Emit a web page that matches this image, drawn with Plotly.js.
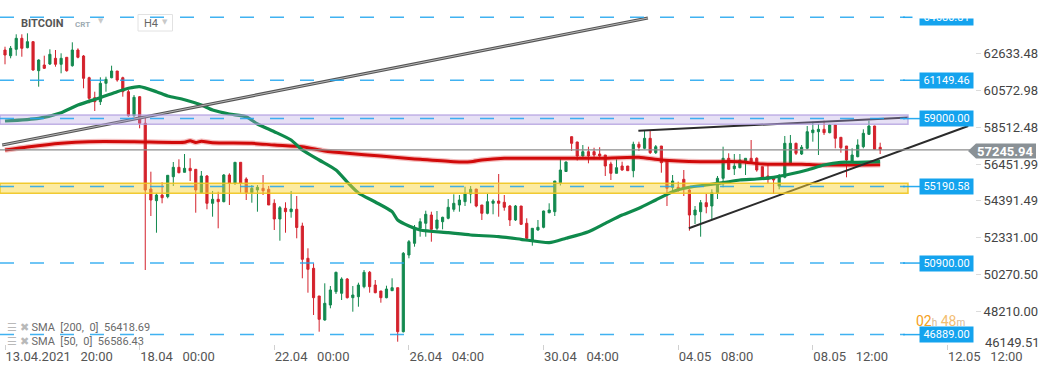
<!DOCTYPE html>
<html><head><meta charset="utf-8">
<script src="https://cdn.plot.ly/plotly-3.0.1.min.js"></script>
<style>html,body{margin:0;padding:0;background:#fff;overflow:hidden}#chart{width:1041px;height:374px}</style>
</head><body><div id="chart"></div>
<script>
// ---- data (BITCOIN, H4) ----
const open  = [62846,62526,62885,63502,62975,63312,61686,62005,62062,62381,62045,62437,61966,62846,62510,61293,60172,59948,60979,61293,61669,61293,60508,59163,60228,58736,55053,54397,54716,54621,55742,56269,55989,56213,56157,54845,55782,54251,54475,54341,55838,55372,56550,55613,54845,54997,55092,55036,54251,53371,53971,53780,53914,52978,51167,50606,49054,47708,48549,49294,49205,50006,48958,49014,49575,50382,49670,49334,48958,49351,49519,47052,51352,52008,52849,53130,53595,52849,53219,53410,53914,54156,54341,54772,55053,54156,53690,54251,54380,54307,54099,53315,54099,53130,52193,52754,52905,53724,53780,55406,56034,57985,57688,56903,57144,57144,57015,56959,56455,55933,56342,56342,56079,57559,57335,57895,57088,57464,56623,55148,55148,55597,54997,53595,53780,54285,54099,54811,55653,56774,56191,56247,56584,56774,56774,56303,55782,55742,55221,55709,56494,57615,57015,57335,58210,58266,58400,58210,58641,57951,57464,56584,56864,57425,58120,58585,57391];
const high  = [63031,63071,63727,63727,63783,63351,62325,62527,62886,62846,62661,62437,63278,62941,62566,61349,60508,61316,61349,61966,61669,61349,60604,60323,60267,59107,56023,54811,55428,55821,56567,56718,57015,56774,56157,56062,55838,54941,54902,55894,55933,56550,56550,55709,55277,55277,55838,55221,54475,54099,54307,54941,54660,53163,51728,50887,49054,49765,49614,50416,50102,50062,49614,49799,50511,50455,49950,49334,49631,50046,49519,51520,52193,53034,53410,53836,53780,53819,53500,54492,54756,54716,55182,55221,55053,54156,54772,54475,55894,54716,54156,54156,54099,53410,52849,53315,53836,54251,55501,56735,56595,58000,57700,57520,57425,57368,57393,56959,56584,56718,56584,56342,57705,57705,58361,58322,57520,57464,56623,55838,55462,56118,55036,54099,54436,54772,55036,55782,57425,57055,57015,57015,56774,57800,56830,56303,56398,55742,55894,58025,58081,57649,57520,58585,58826,58697,58882,58697,58641,57951,57464,57335,57839,58400,58882,58600,57649];
const low   = [62045,62381,62526,62470,62941,61686,60789,61781,62005,61910,61540,61630,61910,62381,60699,59858,59426,59762,60508,61260,61069,60228,59107,59107,58456,50511,53539,52602,54251,54531,55221,55933,55989,55501,53724,54811,53915,53500,52849,54307,54156,55277,54845,54436,54285,53780,54716,54156,52754,52154,52602,53444,52288,50046,49239,47988,47052,47668,48363,49165,48829,48913,48173,48453,49485,49239,49205,48678,48924,49351,46491,47007,51167,51818,52378,52378,52098,52754,52793,53354,53780,53780,54099,54251,54027,53315,53634,53634,53500,53836,52978,53259,53034,52232,51874,52715,52849,53690,53539,55249,56006,57183,56651,56864,56494,56718,56718,55782,55557,55933,56079,56079,55709,57183,57279,57015,57015,55967,54099,54902,54902,54660,52715,53090,52378,53690,53354,54492,55148,56118,55838,56213,55838,56527,56023,55557,55372,54772,55036,55653,56455,56959,56959,57279,57705,56959,58081,58176,57335,57088,55709,56527,56830,57335,58081,57239,57015];
const close = [62566,62941,63502,62941,63312,61725,62286,61820,62605,62045,62381,61686,62846,62437,61260,60138,59948,60979,61204,61669,61164,60508,59163,60194,58736,54997,54436,54716,54565,55821,56269,55967,56213,56079,54997,55782,54251,54475,54341,55838,55372,56550,55372,54845,55092,55148,54958,54156,53371,54004,53780,53931,52894,51111,50550,48958,47747,48644,49390,50382,50006,48958,49109,49670,50382,49575,49239,48958,49446,49519,47052,51447,52098,52905,53219,53634,52793,53315,53466,54027,54251,54436,54772,55036,54099,53690,54341,54380,54251,54027,53315,54099,53073,52288,52849,52905,53819,53875,55501,56118,56567,57615,56903,57144,56903,56959,56903,56342,55933,56247,56118,56079,57559,57391,57895,57088,57425,56527,55092,55501,54997,55092,53595,53875,54285,54060,54845,55653,56774,56157,56342,56679,56774,56584,56118,55709,55597,55557,55709,57615,57615,57055,57391,58266,58361,58400,58210,58641,57895,57368,56679,56959,57520,58176,58585,57279,57245.94];

// SMA readings (candle index -> value)
const sma50Idx = [0,6,10,13,17,20,22,24,27,29,32,35,37,40,43,45,48,51,53,56,59,61,63,66,69,70,72,74,79,83,88,92,97,100,104,107,110,113,116,119,122,125,128,131,134,137,140,143,146,149,152,156];
const sma50Val = [58866,59017,59331,59763,60172,60508,60699,60789,60508,60267,60060,59763,59482,59258,59107,58697,58266,57800,57239,56679,56118,55445,54828,54324,53780,53315,52978,52754,52602,52474,52378,52233,52042,52289,52658,53129,53595,53970,54436,54901,55148,55277,55406,55557,55613,55709,55894,56118,56398,56550,56550,56586.43];
const sma200Idx = [0,4,10,15,23,32,33,34,35,37,44,48,53,57,61,67,72,74,80,83,85,89,102,106,113,117,124,131,135,142,145,156];
const sma200Val = [57239,57408,57615,57705,57705,57671,57761,57660,57727,57649,57615,57520,57425,57183,57054,56903,56763,56718,56583,56583,56679,56774,56774,56774,56830,56679,56583,56583,56455,56438,56398,56418.69];

// drawn trend lines [x0,x1],[y0,y1] in candle index / price
const trendLong   = {x:[-0.5,114.6], y:[57520,64641]};
const trendTop    = {x:[112.9,161],  y:[58322,59062]};
const trendRising = {x:[121.9,171.7],y:[52849,58585]};

// horizontal levels and zones
const levels = [64680.81,61149.46,59000.00,55190.58,50900.00,46889.00];
const zonePurple = [58680,59200];
const zoneYellow = [54812,55372];
const lastPrice = 57245.94;

// axis ticks
const yTicks = [62633.48,60572.98,58512.48,56451.99,54391.49,52331.00,50270.50,48210.00];
const yTickBottom = 46149.51;
const xTickIdx = [0,24,48,72,96,120,144,168];
const xTickText = ['13.04.2021\u00a0\u00a0 20:00','18.04\u00a0\u00a0 00:00','22.04\u00a0\u00a0 00:00','26.04\u00a0\u00a0 04:00','30.04\u00a0\u00a0 04:00','04.05\u00a0\u00a0 08:00','08.05\u00a0\u00a0 12:00','12.05\u00a0\u00a0 12:00'];
const smaLegend = ['SMA\u00a0 [200,\u00a0 0]\u00a0 56418.69','SMA\u00a0 [50,\u00a0 0]\u00a0 56586.43'];

// ---- layout geometry ----
const W=1041,H=374,ML=0,MR=66,MT=0,MB=30;
const PW=W-ML-MR, PH=H-MT-MB;
const px=v=>v/PW, py=v=>1-v/PH;
const idx = close.map((_,i)=>i);
const GREEN='#13894f', RED='#d4222c', BLUE='#14a3ee';
const FONT='Roboto, "Open Sans", sans-serif';

const traces = [
  {type:'candlestick', x:idx, open:open, high:high, low:low, close:close,
   increasing:{line:{color:GREEN,width:1},fillcolor:GREEN},
   decreasing:{line:{color:RED,width:1},fillcolor:RED},
   whiskerwidth:0, hoverinfo:'skip', showlegend:false},
  {type:'scatter',mode:'lines',x:sma200Idx,y:sma200Val,line:{color:'rgba(220,40,40,0.3)',width:5.5,shape:'spline',smoothing:0.6},hoverinfo:'skip',showlegend:false},
  {type:'scatter',mode:'lines',x:sma200Idx,y:sma200Val,line:{color:'#d10a0a',width:3,shape:'spline',smoothing:0.6},hoverinfo:'skip',showlegend:false},
  {type:'scatter',mode:'lines',x:sma50Idx,y:sma50Val,line:{color:'#0f8a4c',width:3.2,shape:'spline',smoothing:0.6},hoverinfo:'skip',showlegend:false},
  {type:'scatter',mode:'lines',x:trendLong.x,y:trendLong.y,line:{color:'#555',width:3.2},hoverinfo:'skip',showlegend:false},
  {type:'scatter',mode:'lines',x:trendLong.x,y:trendLong.y,line:{color:'#b8b8b8',width:1},hoverinfo:'skip',showlegend:false},
  {type:'scatter',mode:'lines',x:trendTop.x,y:trendTop.y,line:{color:'#2b2b2b',width:2},hoverinfo:'skip',showlegend:false},
  {type:'scatter',mode:'lines',x:trendRising.x,y:trendRising.y,line:{color:'#2b2b2b',width:2},hoverinfo:'skip',showlegend:false}
];

const shapes = [];
shapes.push({type:'rect',xref:'paper',yref:'y',x0:0,x1:px(908),y0:zonePurple[0],y1:zonePurple[1],fillcolor:'rgba(180,162,226,0.33)',line:{color:'rgba(175,155,222,0.75)',width:1.5},layer:'above'});
shapes.push({type:'rect',xref:'paper',yref:'y',x0:0,x1:px(908),y0:zoneYellow[0],y1:zoneYellow[1],fillcolor:'rgba(248,214,60,0.48)',line:{color:'rgba(240,196,30,0.9)',width:1.5},layer:'above'});
levels.forEach(v=>{
  shapes.push({type:'line',xref:'paper',yref:'y',x0:0,x1:px(905),y0:v,y1:v,line:{color:'rgba(30,165,238,0.85)',width:1.5,dash:'14px,16px'},layer:'above'});
  shapes.push({type:'line',xref:'paper',yref:'y',x0:px(903),x1:px(920),y0:v,y1:v,line:{color:'rgba(30,165,238,0.95)',width:1.5},layer:'above'});
});
shapes.push({type:'line',xref:'paper',yref:'y',x0:0,x1:px(970),y0:lastPrice,y1:lastPrice,line:{color:'#8c8c8c',width:1.4},layer:'above'});
shapes.push({type:'path',xref:'paper',yref:'paper',
  path:`M ${px(968)} ${py(151)} L ${px(976)} ${py(143.5)} L ${px(1036)} ${py(143.5)} L ${px(1036)} ${py(158.5)} L ${px(976)} ${py(158.5)} Z`,
  fillcolor:'#8a9196',line:{width:0},layer:'above'});
shapes.push({type:'rect',xref:'paper',yref:'paper',x0:px(138),x1:px(172.5),y0:py(31),y1:py(14.5),fillcolor:'rgba(255,255,255,0)',line:{color:'#e2e2e2',width:1},layer:'above'});

const ann = [];
ann.push({xref:'paper',yref:'paper',x:px(914),y:py(321),xanchor:'left',yanchor:'middle',showarrow:false,
  text:'<span style="color:#f5a020">02</span><span style="color:#d8b890;font-size:10px">h</span> <span style="color:#f3bd70">48</span><span style="color:#d8b890;font-size:10px">m</span>',
  font:{family:FONT,size:14}});
levels.forEach(v=>{
  ann.push({xref:'paper',yref:'y',x:px(946),y:v,xanchor:'center',yanchor:'middle',showarrow:false,
    text:v.toFixed(2),font:{family:FONT,size:11,color:'#ffffff'},bgcolor:BLUE,width:50,height:12,borderpad:1.5});
});
ann.push({xref:'paper',yref:'paper',x:px(912),y:1,xanchor:'left',yanchor:'top',showarrow:false,text:' ',bgcolor:'#ffffff',width:70,height:16.5,borderpad:0});
ann.push({xref:'paper',yref:'paper',x:px(983),y:py(342),xanchor:'left',yanchor:'middle',showarrow:false,text:yTickBottom.toFixed(2),font:{family:FONT,size:13,color:'#444'}});
ann.push({xref:'paper',yref:'paper',x:px(1006),y:py(151),xanchor:'center',yanchor:'middle',showarrow:false,text:'<b>'+lastPrice.toFixed(2)+'</b>',font:{family:FONT,size:13,color:'#ffffff'}});
smaLegend.forEach((t,k)=>{
  ann.push({xref:'paper',yref:'paper',x:px(5),y:py(327+k*14.5),xanchor:'left',yanchor:'middle',showarrow:false,
    text:'<span style="color:#b9b9b9">☰ ✖</span> '+t,font:{family:FONT,size:11,color:'#6a6a6a'}});
});
ann.push({xref:'paper',yref:'paper',x:px(19),y:py(23),xanchor:'left',yanchor:'middle',showarrow:false,text:'<b>BITCOIN</b>',font:{family:FONT,size:11,color:'#555'}});
ann.push({xref:'paper',yref:'paper',x:px(73),y:py(24),xanchor:'left',yanchor:'middle',showarrow:false,text:'<b>CRT</b>',font:{family:FONT,size:8,color:'#9eabb3'}});
ann.push({xref:'paper',yref:'paper',x:px(100.5),y:py(21),xanchor:'center',yanchor:'middle',showarrow:false,text:'▼',font:{family:'DejaVu Sans',size:7,color:'#c9c9c9'}});
ann.push({xref:'paper',yref:'paper',x:px(142),y:py(23),xanchor:'left',yanchor:'middle',showarrow:false,text:'H4',font:{family:FONT,size:11,color:'#666'}});
ann.push({xref:'paper',yref:'paper',x:px(164.5),y:py(22),xanchor:'center',yanchor:'middle',showarrow:false,text:'▼',font:{family:'DejaVu Sans',size:7,color:'#c9c9c9'}});

const layout = {
  width:W,height:H,margin:{l:ML,r:MR,t:MT,b:MB},
  paper_bgcolor:'#fff',plot_bgcolor:'#fff',showlegend:false,
  font:{family:FONT,color:'#444'},
  boxgap:0.45,
  xaxis:{type:'linear',range:[(0-5)/5.61,(PW-5)/5.61],rangeslider:{visible:false},
    tickmode:'array',tickvals:xTickIdx,ticktext:xTickText,ticks:'outside',ticklen:5,tickcolor:'#d0d0d0',
    ticklabelposition:'outside right',tickfont:{family:FONT,size:13,color:'#555'},
    showgrid:false,zeroline:false,showline:false,fixedrange:true},
  yaxis:{side:'right',range:[65650-56.07*PH,65650],tickmode:'array',tickvals:yTicks,ticktext:yTicks.map(v=>v.toFixed(2)),
    ticks:'outside',ticklen:5,tickcolor:'#dcdcdc',tickfont:{family:FONT,size:13,color:'#444'},
    showgrid:false,zeroline:false,showline:false,fixedrange:true},
  shapes:shapes,annotations:ann
};
Plotly.newPlot('chart',traces,layout,{staticPlot:true,displayModeBar:false});
</script></body></html>
